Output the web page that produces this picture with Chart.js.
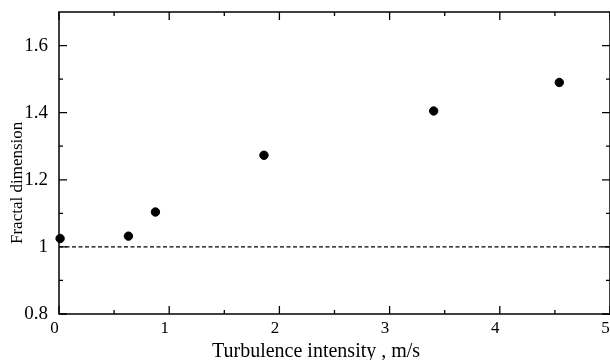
<!DOCTYPE html>
<html>
<head>
<meta charset="utf-8">
<script src="https://cdn.jsdelivr.net/npm/chart.js@4/dist/chart.umd.min.js"></script>
<style>
html,body{margin:0;padding:0;background:#fff;}
#wrap{width:610px;height:360px;position:relative;}
</style>
</head>
<body>
<div id="wrap"><canvas id="c" width="610" height="360"></canvas></div>
<script>
// ---- data ----
const turbulence = [0.01, 0.63, 0.875, 1.86, 3.40, 4.54];
const fractalDim = [1.025, 1.032, 1.104, 1.273, 1.405, 1.490];
const refLineX = [0, 5];
const refLineY = [1, 1];
const xTicks = [0, 1, 2, 3, 4, 5];
const xMinorTicks = [0.5, 1.5, 2.5, 3.5, 4.5];
const yTicks = [0.8, 1, 1.2, 1.4, 1.6];
const yMinorTicks = [0.9, 1.1, 1.3, 1.5];
const xTitle = 'Turbulence intensity , m/s';
const yTitle = 'Fractal dimension';

const SERIF = '"Liberation Serif", "Times New Roman", serif';

const framePlugin = {
  id: 'frameTicks',
  afterDraw(chart) {
    const ctx = chart.ctx;
    const a = chart.chartArea;
    const xs = chart.scales.x, ys = chart.scales.y;
    ctx.save();
    ctx.strokeStyle = '#000';
    ctx.lineWidth = 1.5;
    ctx.strokeRect(a.left, a.top, a.right - a.left, a.bottom - a.top);
    ctx.lineWidth = 1.3;
    ctx.beginPath();
    const maj = 8, mn = 4;
    const xmark = (v, len) => {
      const p = xs.getPixelForValue(v);
      ctx.moveTo(p, a.bottom); ctx.lineTo(p, a.bottom - len);
      ctx.moveTo(p, a.top); ctx.lineTo(p, a.top + len);
    };
    const ymark = (v, len) => {
      const p = ys.getPixelForValue(v);
      ctx.moveTo(a.left, p); ctx.lineTo(a.left + len, p);
      ctx.moveTo(a.right, p); ctx.lineTo(a.right - len, p);
    };
    xTicks.forEach(v => xmark(v, maj));
    xMinorTicks.forEach(v => xmark(v, mn));
    yTicks.forEach(v => ymark(v, maj));
    yMinorTicks.forEach(v => ymark(v, mn));
    ctx.stroke();
    // axis titles
    ctx.fillStyle = '#000';
    ctx.font = '20px ' + SERIF;
    ctx.textAlign = 'left';
    ctx.textBaseline = 'alphabetic';
    ctx.fillText(xTitle, 212, 356.5);
    ctx.translate(21.5, 244);
    ctx.rotate(-Math.PI / 2);
    ctx.font = '17px ' + SERIF;
    ctx.fillText(yTitle, 0, 0);
    ctx.restore();
  }
};

function zeroPad(s) {
  s.paddingTop = 0; s.paddingBottom = 0; s.paddingLeft = 0; s.paddingRight = 0;
}

new Chart(document.getElementById('c'), {
  type: 'scatter',
  data: {
    datasets: [
      {
        type: 'line',
        data: refLineX.map((x, i) => ({x: x, y: refLineY[i]})),
        borderColor: '#000',
        borderWidth: 1.4,
        borderDash: [4, 2.5],
        pointRadius: 0,
        fill: false,
        order: 2
      },
      {
        data: turbulence.map((x, i) => ({x: x, y: fractalDim[i]})),
        backgroundColor: '#000',
        borderColor: '#000',
        pointRadius: 4.2,
        pointHoverRadius: 4.2,
        clip: false,
        order: 1
      }
    ]
  },
  options: {
    responsive: false,
    animation: false,
    devicePixelRatio: 1,
    layout: { autoPadding: false, padding: { top: 12, right: -1.5, left: 0, bottom: 0 } },
    plugins: { legend: { display: false }, tooltip: { enabled: false } },
    scales: {
      x: {
        type: 'linear',
        min: 0, max: 5,
        afterFit(s) { s.height = 46; zeroPad(s); },
        afterBuildTicks(s) { s.ticks = xTicks.map(v => ({value: v})); },
        grid: { display: false, drawTicks: false },
        border: { display: false },
        ticks: {
          padding: 4,
          labelOffset: -4.5,
          maxRotation: 0,
          autoSkip: false,
          color: '#000',
          font: { family: SERIF, size: 17 },
          callback: v => String(v)
        }
      },
      y: {
        type: 'linear',
        min: 0.8, max: 1.7,
        afterFit(s) { s.width = 59; zeroPad(s); },
        afterBuildTicks(s) { s.ticks = yTicks.map(v => ({value: v})); },
        grid: { display: false, drawTicks: false },
        border: { display: false },
        ticks: {
          padding: 11,
          autoSkip: false,
          color: '#000',
          font: { family: SERIF, size: 19 },
          callback: v => String(Number(v.toFixed(2)))
        }
      }
    }
  },
  plugins: [framePlugin]
});
</script>
</body>
</html>
